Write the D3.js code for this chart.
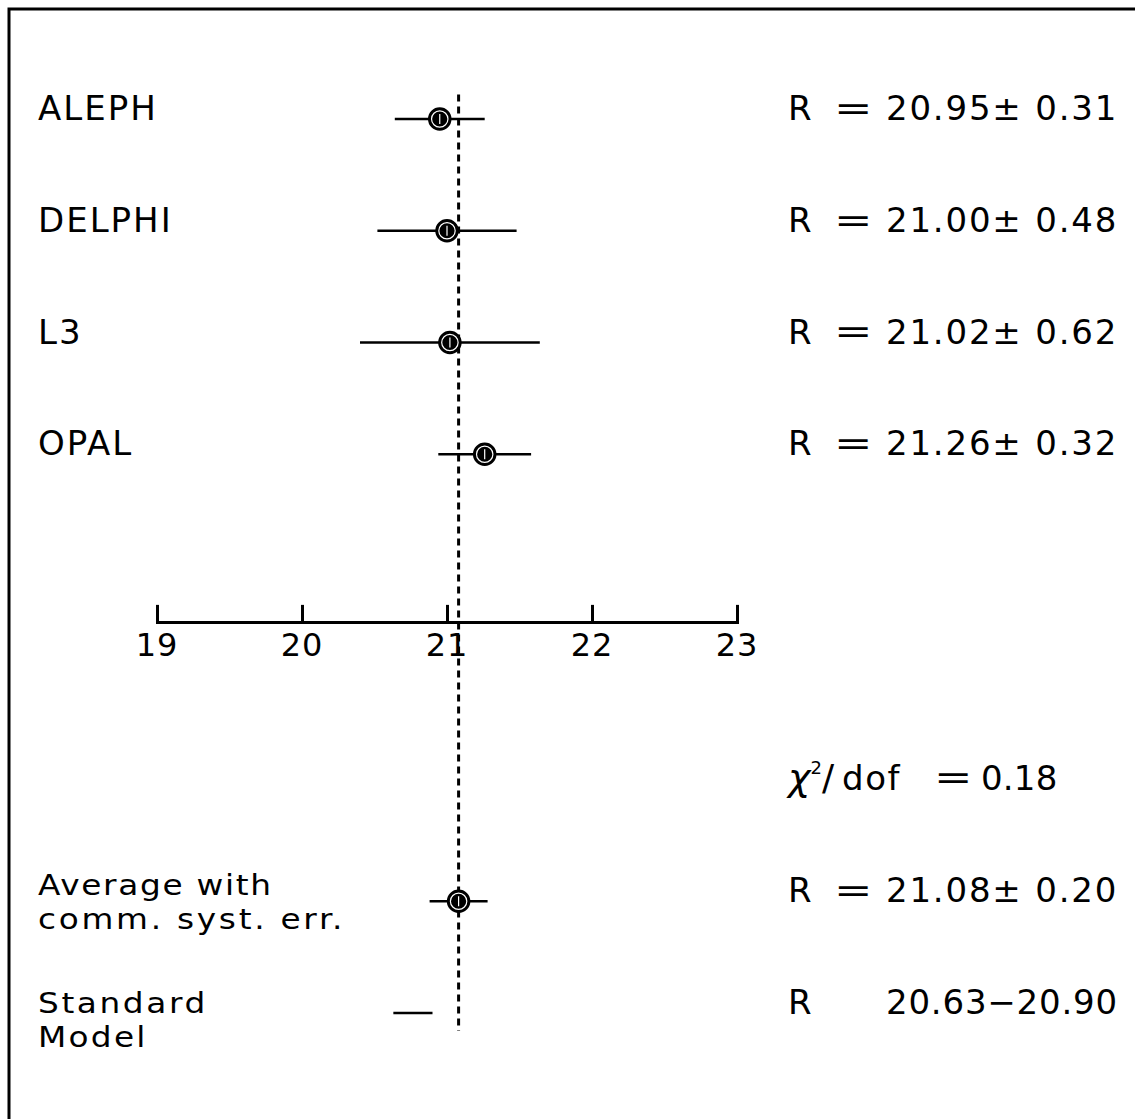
<!DOCTYPE html>
<html><head><meta charset="utf-8">
<script src="https://cdn.jsdelivr.net/npm/d3@7"></script>
<style>body{margin:0;background:#fff}svg{display:block}text{font-family:"DejaVu Sans",sans-serif;fill:#000}</style>
</head><body>
<script>
const experiments = ["ALEPH", "DELPHI", "L3", "OPAL"];
const values = [20.95, 21.00, 21.02, 21.26];
const errors = [0.31, 0.48, 0.62, 0.32];
const averageLabel = ["Average with", "comm. syst. err."];
const averageValue = 21.08;
const averageError = 0.20;
const smLabel = ["Standard", "Model"];
const smRange = [20.63, 20.90];
const chi2dof = 0.18;
const tickValues = [19, 20, 21, 22, 23];

const W = 1135, H = 1119;
const svg = d3.select("body").append("svg").attr("width", W).attr("height", H);

const x = d3.scaleLinear().domain([19, 23]).range([157, 737]);
const y = d3.scaleLinear().domain([0, 8]).range([119, 1013]);

// frame
svg.append("path").attr("d", `M9,${H} L9,9 L${W},9`).attr("fill", "none").attr("stroke", "#000").attr("stroke-width", 3);

// dashed reference line at average
svg.append("line").attr("x1", x(averageValue)).attr("x2", x(averageValue))
  .attr("y1", y(-0.22)).attr("y2", y(8.16))
  .attr("stroke", "#000").attr("stroke-width", 3).attr("stroke-dasharray", "7,5");

// axis
const axisG = svg.append("g").attr("transform", `translate(0,${y(4.5)})`);
const axis = d3.axisTop(x).tickValues(tickValues).tickSize(17).tickSizeOuter(17).tickFormat("");
axisG.call(axis);
axisG.selectAll("path,line").attr("stroke", "#000").attr("stroke-width", 3);
axisG.selectAll(".tlab").data(tickValues).enter().append("text")
  .attr("class", "tlab").attr("x", d => x(d)).attr("y", 34)
  .attr("text-anchor", "middle").attr("font-size", 32).attr("letter-spacing", 1).text(d => d);

function marker(g, cx, cy) {
  g.append("circle").attr("cx", cx).attr("cy", cy).attr("r", 10.5)
    .attr("fill", "#000").attr("stroke", "#000").attr("stroke-width", 2.5);
  g.append("circle").attr("cx", cx).attr("cy", cy).attr("r", 8.2)
    .attr("fill", "none").attr("stroke", "#fff").attr("stroke-width", 1.2);
  g.append("line").attr("x1", cx).attr("x2", cx).attr("y1", cy - 5).attr("y2", cy + 5)
    .attr("stroke", "#fff").attr("stroke-width", 1.2);
}

const leftX = 38, rX = 788, eqX = 834, numX = 886;
const fs = 34;

function rText(g, cy, eq, num, ls) {
  g.append("text").attr("x", rX).attr("y", cy + 1).attr("font-size", fs).text("R");
  if (eq) g.append("text").attr("x", eqX).attr("y", cy + 1).attr("font-size", fs).attr("transform", `translate(${eqX},0) scale(1.35,1) translate(${-eqX},0)`).text("=");
  g.append("text").attr("x", numX).attr("y", cy + 1).attr("font-size", fs).attr("letter-spacing", ls).text(num);
}

// experiments
experiments.forEach((name, i) => {
  const g = svg.append("g");
  const cy = y(i);
  g.append("line").attr("x1", x(values[i] - errors[i])).attr("x2", x(values[i] + errors[i]))
    .attr("y1", cy).attr("y2", cy).attr("stroke", "#000").attr("stroke-width", 2.5);
  marker(g, x(values[i]), cy);
  g.append("text").attr("x", leftX).attr("y", cy + 1).attr("font-size", fs).attr("letter-spacing", 2).text(name);
  rText(g, cy, true, values[i].toFixed(2) + "\u00B1 " + errors[i].toFixed(2), 1.8);
});

// chi2
{
  const cy = y(6);
  const t = svg.append("text").attr("y", cy).attr("font-size", fs);
  t.append("tspan").attr("x", rX).attr("font-style", "italic").attr("font-size", 38).text("\u03C7");
  t.append("tspan").attr("font-size", 18).attr("dy", -16).text("2");
  t.append("tspan").attr("dy", 16).attr("font-size", 36).text("/");
  t.append("tspan").attr("dx", 8).attr("letter-spacing", 1.5).text("dof");
  svg.append("text").attr("x", 934).attr("y", cy).attr("font-size", fs)
    .attr("transform", `translate(934,0) scale(1.35,1) translate(-934,0)`).text("=");
  svg.append("text").attr("x", 981).attr("y", cy).attr("font-size", fs).attr("letter-spacing", 0.2).text(chi2dof.toFixed(2));
}

function twoLine(g, lines, cy, gap, spacings) {
  lines.forEach((s, j) => g.append("text").attr("x", leftX).attr("y", cy + j * gap)
    .attr("font-size", 29).attr("letter-spacing", spacings[j])
    .attr("transform", `translate(${leftX},0) scale(1.13,1) translate(${-leftX},0)`).text(s));
}

// average
{
  const g = svg.append("g");
  const cy = y(7);
  g.append("line").attr("x1", x(averageValue - averageError)).attr("x2", x(averageValue + averageError))
    .attr("y1", cy).attr("y2", cy).attr("stroke", "#000").attr("stroke-width", 2.5);
  marker(g, x(averageValue), cy);
  twoLine(g, averageLabel, cy - 6, 34, [1.5, 2.4]);
  rText(g, cy, true, averageValue.toFixed(2) + "\u00B1 " + averageError.toFixed(2), 1.8);
}

// standard model
{
  const g = svg.append("g");
  const cy = y(8);
  g.append("line").attr("x1", x(smRange[0])).attr("x2", x(smRange[1]))
    .attr("y1", cy).attr("y2", cy).attr("stroke", "#000").attr("stroke-width", 2.5);
  twoLine(g, smLabel, cy, 34, [2.3, 2]);
  rText(g, cy, false, smRange[0].toFixed(2) + "\u2212" + smRange[1].toFixed(2), 0.8);
}
</script>
</body></html>
